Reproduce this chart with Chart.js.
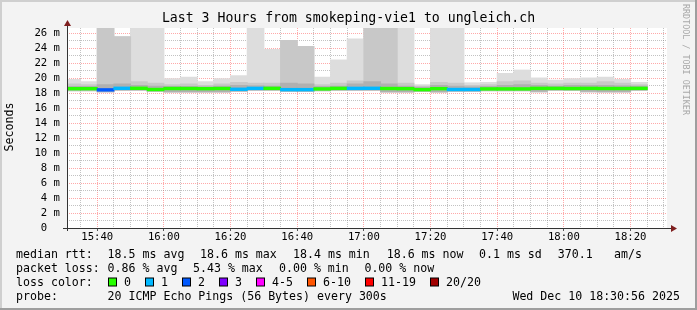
<!DOCTYPE html>
<html>
<head>
<meta charset="utf-8">
<script src="https://cdn.jsdelivr.net/npm/chart.js@4"></script>
<style>
html,body{margin:0;padding:0;background:#f3f3f3;overflow:hidden}
canvas{display:block}
</style>
</head>
<body>
<canvas id="c" width="697" height="310"></canvas>
<script>
// ---------- data ----------
const binStart = ["15:30","15:35","15:40","15:45","15:50","15:55","16:00","16:05","16:10","16:15","16:20","16:25","16:30","16:35","16:40","16:45","16:50","16:55","17:00","17:05","17:10","17:15","17:20","17:25","17:30","17:35","17:40","17:45","17:50","17:55","18:00","18:05","18:10","18:15","18:20"];
const medianMs = [18.58,18.58,18.42,18.63,18.63,18.47,18.6,18.6,18.58,18.6,18.5,18.62,18.62,18.45,18.45,18.55,18.62,18.62,18.63,18.6,18.58,18.45,18.58,18.47,18.47,18.55,18.55,18.55,18.62,18.62,18.6,18.62,18.6,18.6,18.62];
const lossCount = [0,0,2,1,0,0,0,0,0,0,1,1,0,1,1,0,0,1,1,0,0,0,0,1,1,0,0,0,0,0,0,0,0,0,0];
const pingMin  = [18.3,18.3,18.15,18.35,18.35,18.2,18.1,18.1,18.1,18.1,18.2,18.35,18.35,18.2,18.2,18.3,18.35,18.35,18.35,18.1,18.1,18.2,18.1,18.2,18.2,18.3,18.3,18.3,18.15,18.35,18.35,18.15,18.12,18.12,18.35];
const pingLow  = [18.4,18.4,18.25,18.45,18.45,18.3,18.2,18.2,18.2,18.2,18.3,18.45,18.45,18.28,18.28,18.38,18.45,18.45,18.45,18.2,18.2,18.28,18.2,18.3,18.3,18.38,18.38,18.38,18.25,18.45,18.43,18.25,18.22,18.22,18.45];
const pingMid  = [18.85,18.85,19.1,19.2,19.0,18.9,18.85,18.85,18.8,18.9,19.0,18.95,18.9,19.3,19.2,18.85,18.9,19.2,19.5,19.2,18.9,18.75,19.0,18.9,18.8,18.85,19.0,19.1,19.0,18.9,19.0,19.0,19.0,18.95,18.9];
const pingHigh = [19.2,19.1,26.6,25.5,19.5,19.3,19.1,19.2,19.0,19.2,19.4,19.3,19.3,25.0,24.2,19.1,19.3,19.6,29,29,19.3,18.9,19.4,19.3,19.0,19.1,19.5,19.6,19.3,19.2,19.3,19.3,19.5,19.3,19.1];
const pingMax  = [19.8,19.5,26.6,25.5,29,29,19.9,20.1,19.5,19.9,20.3,29,23.8,25.0,24.2,20.1,22.4,25.2,29,29,29,19.1,29,29,19.35,19.4,20.6,21.05,20.0,19.7,19.9,20.0,20.1,19.8,19.4];

const xTickLabels = ["15:40","16:00","16:20","16:40","17:00","17:20","17:40","18:00","18:20"];
const yTickLabels = ["0","2 m","4 m","6 m","8 m","10 m","12 m","14 m","16 m","18 m","20 m","22 m","24 m","26 m"];

const lossLegend = ["0","1","2","3","4-5","6-10","11-19","20/20"];
const lossColors = ["#26ff00","#00b8ff","#0059ff","#7e00ff","#ff00ff","#ff5500","#ff0000","#a10000"];

const titleText = "Last 3 Hours from smokeping-vie1 to ungleich.ch";
const rttStats = ["18.5 ms avg","18.6 ms max","18.4 ms min","18.6 ms now","0.1 ms sd","370.1","am/s"];
const lossStats = ["0.86 % avg","5.43 % max","0.00 % min","0.00 % now"];
const probeText = "20 ICMP Echo Pings (56 Bytes) every 300s";
const dateText = "Wed Dec 10 18:30:56 2025";
const rangeStart = "15:30:56", rangeEnd = "18:30:56";

// ---------- helpers ----------
function toMin(s){const p=s.split(':').map(Number);return (p[0]-15)*60+p[1]+(p[2]||0)/60;}
function lossIndex(n){ if(n<=3) return n; if(n<=5) return 4; if(n<=10) return 5; if(n<=19) return 6; return 7; }
const BIN = 5;
const majorX = xTickLabels.map(toMin);
const xTicks = []; for(let m=35;m<=210;m+=BIN) xTicks.push(m);
const yTicks = []; for(let v=0;v<=26;v++) yTicks.push(v);

function band(lo,hi){ return binStart.map((t,i)=>({x:toMin(t)+BIN/2, y:[lo[i],hi[i]]})); }
const medianBand = binStart.map((t,i)=>({x:toMin(t)+BIN/2, y:[medianMs[i]-0.16, medianMs[i]+0.16]}));

const FONT = "'DejaVu Sans Mono', 'Liberation Mono', monospace";
const MGRID = 'rgba(255,40,40,0.4)';
const GRID = 'rgba(120,120,120,0.45)';

const decor = {
  id:'decor',
  beforeDraw(chart){
    const c=chart.ctx; c.save();
    c.fillStyle='#f3f3f3'; c.fillRect(0,0,chart.width,chart.height);
    const a=chart.chartArea;
    c.fillStyle='#ffffff'; c.fillRect(a.left,a.top,a.right-a.left,a.bottom-a.top);
    c.restore();
  },
  afterDraw(chart){
    const c=chart.ctx, a=chart.chartArea, W=chart.width, H=chart.height;
    c.save();
    // axes
    c.strokeStyle='#333'; c.lineWidth=1;
    c.beginPath(); c.moveTo(a.left-4, a.bottom+0.5); c.lineTo(a.right+4, a.bottom+0.5); c.stroke();
    c.beginPath(); c.moveTo(a.left+0.5, a.bottom+3); c.lineTo(a.left+0.5, a.top-4); c.stroke();
    // arrows
    c.fillStyle='#7f1f1f';
    c.beginPath(); c.moveTo(a.left+0.5, a.top-8); c.lineTo(a.left-3, a.top-2); c.lineTo(a.left+4, a.top-2); c.closePath(); c.fill();
    c.beginPath(); c.moveTo(a.right+10, a.bottom+0.5); c.lineTo(a.right+4, a.bottom-3); c.lineTo(a.right+4, a.bottom+4); c.closePath(); c.fill();
    // title
    c.fillStyle='#000'; c.textBaseline='middle';
    c.font='13.2px '+FONT; c.textAlign='center';
    c.fillText(titleText, W/2, 19);
    // y title
    c.font='11.6px '+FONT;
    c.save(); c.translate(10,127); c.rotate(-Math.PI/2); c.textAlign='center'; c.fillText('Seconds',0,0); c.restore();
    // legend
    c.textAlign='left';
    const L1=255, L2=268.5, L3=282.5, L4=296.5;
    c.fillText('median rtt:',16,L1);
    const rx=[107.6,200,293,386.7,479,557.8,614];
    rttStats.forEach((s,i)=>c.fillText(s,rx[i],L1));
    c.fillText('packet loss:',16,L2);
    const lx=[107.6,193,279,364.4];
    lossStats.forEach((s,i)=>c.fillText(s,lx[i],L2));
    c.fillText('loss color:',16,L3);
    const bx=[108.5,145.5,182.5,219.5,256.5,307.5,365.5,430.5];
    lossLegend.forEach((s,i)=>{
      c.fillStyle=lossColors[i]; c.fillRect(bx[i],L3-4.5,8,8);
      c.strokeStyle='#000'; c.lineWidth=1; c.strokeRect(bx[i],L3-4.5,8,8);
      c.fillStyle='#000'; c.fillText(s,bx[i]+15.5,L3);
    });
    c.fillText('probe:',16,L4);
    c.fillText(probeText,107.6,L4);
    c.fillText(dateText,512.4,L4);
    // watermark
    c.save(); c.fillStyle='#a8a8a8'; c.font='8.4px '+FONT; c.translate(685,4); c.rotate(Math.PI/2);
    c.textBaseline='middle'; c.textAlign='left'; c.fillText('RRDTOOL / TOBI OETIKER',0,0); c.restore();
    // frame
    c.fillStyle='#cfcfcf'; c.fillRect(0,0,W,2); c.fillRect(0,0,2,H);
    c.fillStyle='#9e9e9e'; c.fillRect(0,H-2,W,2); c.fillRect(W-2,0,2,H);
    c.restore();
  }
};

new Chart(document.getElementById('c'), {
  type:'bar',
  data:{ datasets:[
    {label:'median', data:medianBand, backgroundColor:(ctx)=>lossColors[lossIndex(lossCount[ctx.dataIndex]||0)], order:0},
    {label:'smoke inner', data:band(pingLow,pingMid), backgroundColor:'#b0b0b0', order:1},
    {label:'smoke mid', data:band(pingMin,pingHigh), backgroundColor:'#c8c8c8', order:2},
    {label:'smoke outer', data:band(pingMin,pingMax), backgroundColor:'#dddddd', order:3}
  ]},
  options:{
    responsive:false, animation:false, events:[], devicePixelRatio:1,
    layout:{padding:{left:0,right:30,top:28,bottom:0}},
    datasets:{bar:{grouped:false, categoryPercentage:1, barPercentage:1, borderWidth:0, inflateAmount:0.5}},
    plugins:{legend:{display:false}, tooltip:{enabled:false}, title:{display:false}},
    scales:{
      x:{
        type:'linear', min:toMin(rangeStart), max:toMin(rangeEnd), offset:false, z:1,
        afterBuildTicks:(s)=>{ s.ticks = xTicks.map(v=>({value:v})); },
        afterFit:(s)=>{ s.height = 82; },
        grid:{ offset:false, lineWidth:1, drawTicks:true, tickLength:3,
          color:(ctx)=> ctx.tick && majorX.includes(ctx.tick.value) ? MGRID : GRID,
          tickColor:(ctx)=> ctx.tick && majorX.includes(ctx.tick.value) ? '#555' : 'rgba(0,0,0,0)' },
        border:{display:false, dash:[1,1]},
        ticks:{ autoSkip:false, maxRotation:0, minRotation:0, padding:0, color:'#000',
          font:{family:FONT, size:10.6},
          callback:(v)=>{ const k=majorX.indexOf(v); return k>=0 ? xTickLabels[k] : ''; } }
      },
      y:{
        type:'linear', min:0, max:26.67, z:1,
        afterBuildTicks:(s)=>{ s.ticks = yTicks.map(v=>({value:v})); },
        afterFit:(s)=>{ s.width = 67; },
        grid:{ lineWidth:1, drawTicks:true, tickLength:3,
          color:(ctx)=> ctx.tick && ctx.tick.value===0 ? 'rgba(0,0,0,0)' : (ctx.tick && ctx.tick.value%2===0 ? MGRID : GRID),
          tickColor:'rgba(0,0,0,0)' },
        border:{display:false, dash:[1,1]},
        ticks:{ autoSkip:false, padding:4, color:'#000', font:{family:FONT, size:10.6},
          callback:(v)=> v%2===0 ? (v===0 ? yTickLabels[0]+'  ' : yTickLabels[v/2]) : '' }
      }
    }
  },
  plugins:[decor]
});
</script>
</body>
</html>
